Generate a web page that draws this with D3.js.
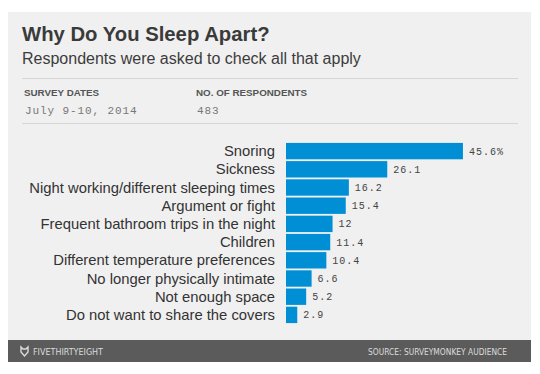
<!DOCTYPE html>
<html><head><meta charset="utf-8">
<script src="https://cdn.jsdelivr.net/npm/d3@7"></script>
<style>
html,body{margin:0;padding:0;background:#fff;}
svg{display:block;}
</style></head>
<body>
<svg id="chart" width="540" height="374"></svg>
<script>
const categories = ["Snoring","Sickness","Night working/different sleeping times","Argument or fight","Frequent bathroom trips in the night","Children","Different temperature preferences","No longer physically intimate","Not enough space","Do not want to share the covers"];
const values = [45.6, 26.1, 16.2, 15.4, 12, 11.4, 10.4, 6.6, 5.2, 2.9];
const valueLabels = ["45.6%","26.1","16.2","15.4","12","11.4","10.4","6.6","5.2","2.9"];
const title = "Why Do You Sleep Apart?";
const subtitle = "Respondents were asked to check all that apply";
const metaHeads = ["SURVEY DATES","NO. OF RESPONDENTS"];
const metaVals = ["July 9-10, 2014","483"];
const footerLeft = "FIVETHIRTYEIGHT";
const footerRight = "SOURCE: SURVEYMONKEY AUDIENCE";

const svg = d3.select("#chart");
const sans = "'Liberation Sans', Arial, sans-serif";
const mono = "'Liberation Mono', 'DejaVu Sans Mono', monospace";

svg.append("rect").attr("x",8).attr("y",12).attr("width",523).attr("height",350).attr("fill","#f0f0f0");

svg.append("text").attr("x",22).attr("y",41).text(title)
  .attr("font-family",sans).attr("font-weight","bold").attr("font-size",20.3).attr("fill","#3a3a3a");
svg.append("text").attr("x",22).attr("y",64).text(subtitle)
  .attr("font-family",sans).attr("font-size",16).attr("fill","#3c3c3c");

svg.append("line").attr("x1",22).attr("x2",518).attr("y1",78.5).attr("y2",78.5).attr("stroke","#d6d6d6");
svg.append("line").attr("x1",22).attr("x2",518).attr("y1",123.5).attr("y2",123.5).attr("stroke","#d6d6d6");

const metaX = [24, 196];
metaHeads.forEach((h,i)=>{
  svg.append("text").attr("x",metaX[i]).attr("y",96).text(h)
    .attr("font-family",sans).attr("font-weight","bold").attr("font-size",9.8).attr("fill","#555");
  svg.append("text").attr("x",metaX[i]+1).attr("y",114).text(metaVals[i])
    .attr("font-family",mono).attr("font-size",11).attr("letter-spacing",0.9).attr("fill","#777");
});

const y = d3.scaleBand().domain(categories).range([142,324]).paddingInner(0.1).paddingOuter(0.05);
const x = d3.scaleLinear().domain([0,50]).range([286,480]);

const g = svg.append("g");
g.selectAll("rect.bar").data(values).join("rect").attr("class","bar")
  .attr("x",x(0)).attr("y",(d,i)=>y(categories[i]))
  .attr("width",d=>x(d)-x(0)).attr("height",y.bandwidth())
  .attr("fill","#008fd5");

g.selectAll("text.cat").data(categories).join("text").attr("class","cat")
  .attr("x",275).attr("y",d=>y(d)+y.bandwidth()/2+5)
  .attr("text-anchor","end").text(d=>d)
  .attr("font-family",sans).attr("font-size",14.8).attr("fill","#333");

g.selectAll("text.val").data(values).join("text").attr("class","val")
  .attr("x",d=>x(d)+6).attr("y",(d,i)=>y(categories[i])+y.bandwidth()/2+3.5)
  .text((d,i)=>valueLabels[i])
  .attr("font-family",mono).attr("font-size",10).attr("letter-spacing",1).attr("fill","#444");

// footer
svg.append("rect").attr("x",8).attr("y",340).attr("width",523).attr("height",22).attr("fill","#5b5b5b");
// logo
svg.append("path").attr("d","M21,347 L23,349 L26,349 L28,347 L28,352 L24.5,356 L21,352 Z")
  .attr("fill","none").attr("stroke","#dcdcdc").attr("stroke-width",1.4);
svg.append("text").attr("x",33).attr("y",355).text(footerLeft)
  .attr("font-family","'DejaVu Sans Condensed', 'Liberation Sans Narrow', sans-serif").attr("font-size",8.5)
  .attr("textLength",70).attr("lengthAdjust","spacingAndGlyphs").attr("fill","#dcdcdc");
svg.append("text").attr("x",507).attr("y",355).attr("text-anchor","end").text(footerRight)
  .attr("font-family","'DejaVu Sans Condensed', 'Liberation Sans Narrow', sans-serif").attr("font-size",8.5)
  .attr("textLength",139).attr("lengthAdjust","spacingAndGlyphs").attr("fill","#dcdcdc");
</script>
</body></html>
